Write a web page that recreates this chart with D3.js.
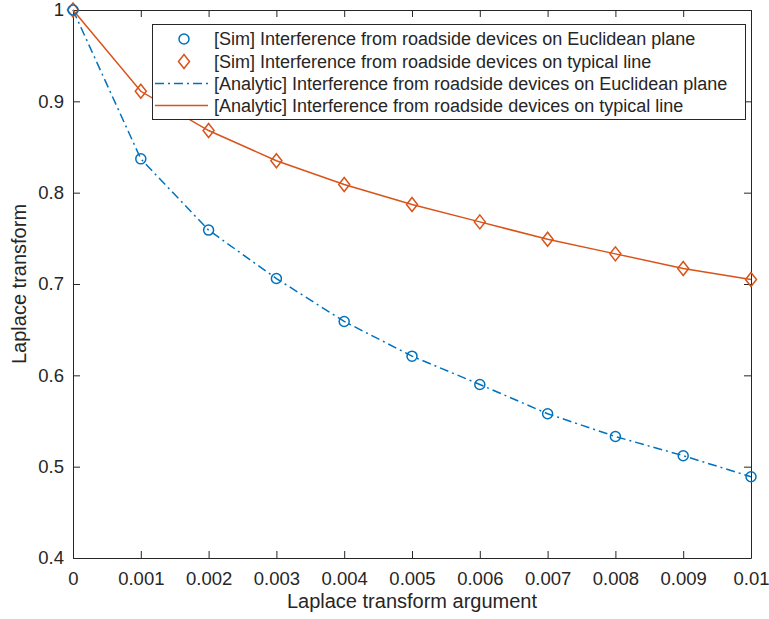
<!DOCTYPE html>
<html>
<head>
<meta charset="utf-8">
<script src="https://cdn.jsdelivr.net/npm/d3@7"></script>
<style>
  html, body { margin: 0; padding: 0; background: #fff; }
  svg { display: block; font-family: "Liberation Sans", Arial, Helvetica, sans-serif; }
</style>
</head>
<body>
<svg id="chart" width="769" height="619"></svg>
<script>
// Laplace transform argument (s)
const sValues = [0, 0.001, 0.002, 0.003, 0.004, 0.005, 0.006, 0.007, 0.008, 0.009, 0.01];
// Interference from roadside devices on the Euclidean plane
const planeSim      = [1, 0.837, 0.759, 0.706, 0.659, 0.621, 0.590, 0.558, 0.533, 0.512, 0.489];
const planeAnalytic = [1, 0.837, 0.759, 0.706, 0.659, 0.621, 0.590, 0.558, 0.533, 0.512, 0.489];
// Interference from roadside devices on the typical line
const lineSim      = [1, 0.911, 0.868, 0.835, 0.809, 0.787, 0.768, 0.749, 0.733, 0.717, 0.705];
const lineAnalytic = [1, 0.911, 0.868, 0.835, 0.809, 0.787, 0.768, 0.749, 0.733, 0.717, 0.705];

const xTicks = [0, 0.001, 0.002, 0.003, 0.004, 0.005, 0.006, 0.007, 0.008, 0.009, 0.01];
const xTickLabels = ["0", "0.001", "0.002", "0.003", "0.004", "0.005", "0.006", "0.007", "0.008", "0.009", "0.01"];
const yTicks = [0.4, 0.5, 0.6, 0.7, 0.8, 0.9, 1];
const yTickLabels = ["0.4", "0.5", "0.6", "0.7", "0.8", "0.9", "1"];

const legendLabels = [
  "[Sim] Interference from roadside devices on Euclidean plane",
  "[Sim] Interference from roadside devices on typical line",
  "[Analytic] Interference from roadside devices on Euclidean plane",
  "[Analytic] Interference from roadside devices on typical line"
];

const BLUE = "#0072BD", ORANGE = "#D95319", AXIS = "#262626";

const svg = d3.select("#chart");
const box = { left: 73, right: 751, top: 10, bottom: 558 };

const x = d3.scaleLinear().domain([0, 0.01]).range([box.left, box.right]);
const y = d3.scaleLinear().domain([0.4, 1]).range([box.bottom, box.top]);

// Axes box with inward ticks on all four sides
const tickLen = 7;
const axisG = svg.append("g");
axisG.append("g").attr("transform", `translate(0,${box.bottom})`)
  .call(d3.axisBottom(x).tickValues(xTicks).tickSizeInner(-tickLen).tickSizeOuter(0)
    .tickPadding(14).tickFormat((d, i) => xTickLabels[i]));
axisG.append("g").attr("transform", `translate(0,${box.top})`)
  .call(d3.axisTop(x).tickValues(xTicks).tickSizeInner(-tickLen).tickSizeOuter(0).tickFormat(""));
axisG.append("g").attr("transform", `translate(${box.left},0)`)
  .call(d3.axisLeft(y).tickValues(yTicks).tickSizeInner(-tickLen).tickSizeOuter(0)
    .tickPadding(9).tickFormat((d, i) => yTickLabels[i]));
axisG.append("g").attr("transform", `translate(${box.right},0)`)
  .call(d3.axisRight(y).tickValues(yTicks).tickSizeInner(-tickLen).tickSizeOuter(0).tickFormat(""));
axisG.selectAll(".domain").attr("stroke", AXIS).attr("stroke-width", 1);
axisG.selectAll(".tick line").attr("stroke", AXIS).attr("stroke-width", 1);
axisG.selectAll(".tick text").attr("fill", AXIS).attr("font-size", 18.5)
  .attr("font-family", "'Liberation Sans', Arial, sans-serif");

// Axis titles
svg.append("text").attr("x", (box.left + box.right) / 2).attr("y", 608)
  .attr("text-anchor", "middle").attr("font-size", 20).attr("fill", AXIS)
  .text("Laplace transform argument");
svg.append("text").attr("transform", `translate(26,${(box.top + box.bottom) / 2}) rotate(-90)`)
  .attr("text-anchor", "middle").attr("font-size", 20).attr("fill", AXIS)
  .text("Laplace transform");

const plotG = svg.append("g");
const line = d3.line().x(d => x(d[0])).y(d => y(d[1]));

// Analytic curves
plotG.append("path").datum(sValues.map((s, i) => [s, planeAnalytic[i]]))
  .attr("d", line).attr("fill", "none").attr("stroke", BLUE).attr("stroke-width", 1.5)
  .attr("stroke-dasharray", "9,4,2,4");
plotG.append("path").datum(sValues.map((s, i) => [s, lineAnalytic[i]]))
  .attr("d", line).attr("fill", "none").attr("stroke", ORANGE).attr("stroke-width", 1.5);

// Simulation markers
const diamond = (cx, cy) => `M${cx},${cy - 7}L${cx + 5.5},${cy}L${cx},${cy + 7}L${cx - 5.5},${cy}Z`;
plotG.selectAll("path.diam").data(sValues.map((s, i) => [s, lineSim[i]])).join("path")
  .attr("class", "diam").attr("d", d => diamond(x(d[0]), y(d[1])))
  .attr("fill", "none").attr("stroke", ORANGE).attr("stroke-width", 1.5);
plotG.selectAll("circle.sim").data(sValues.map((s, i) => [s, planeSim[i]])).join("circle")
  .attr("class", "sim").attr("cx", d => x(d[0])).attr("cy", d => y(d[1])).attr("r", 5)
  .attr("fill", "none").attr("stroke", BLUE).attr("stroke-width", 1.5);

// Legend
const lg = svg.append("g");
lg.append("rect").attr("x", 152.5).attr("y", 24.5).attr("width", 593).attr("height", 95)
  .attr("fill", "#fff").attr("stroke", AXIS).attr("stroke-width", 1);
const rowY = [39, 61.5, 83.5, 105.5];
lg.append("circle").attr("cx", 184).attr("cy", rowY[0]).attr("r", 5)
  .attr("fill", "none").attr("stroke", BLUE).attr("stroke-width", 1.5);
lg.append("path").attr("d", diamond(184, rowY[1])).attr("fill", "none")
  .attr("stroke", ORANGE).attr("stroke-width", 1.5);
lg.append("line").attr("x1", 155).attr("x2", 208).attr("y1", rowY[2]).attr("y2", rowY[2])
  .attr("stroke", BLUE).attr("stroke-width", 1.5).attr("stroke-dasharray", "9,4,2,4");
lg.append("line").attr("x1", 155).attr("x2", 208).attr("y1", rowY[3]).attr("y2", rowY[3])
  .attr("stroke", ORANGE).attr("stroke-width", 1.5);
lg.selectAll("text.lab").data(legendLabels).join("text").attr("class", "lab")
  .attr("x", 214).attr("y", (d, i) => rowY[i]).attr("dy", "0.35em")
  .attr("font-size", 18).attr("fill", AXIS).text(d => d);
</script>
</body>
</html>
